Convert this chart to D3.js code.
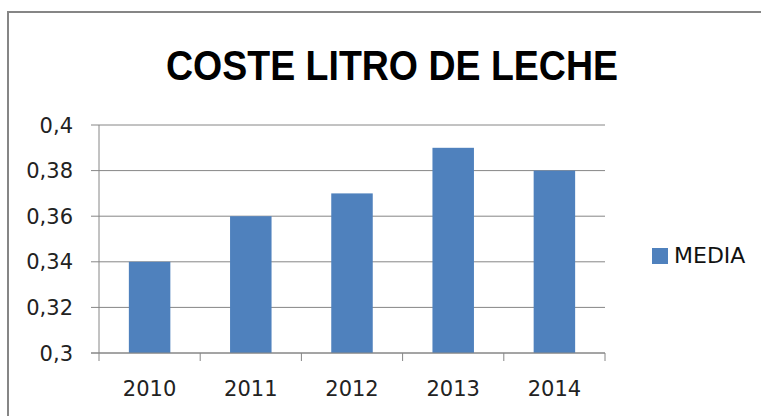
<!DOCTYPE html>
<html>
<head>
<meta charset="utf-8">
<script src="https://cdn.jsdelivr.net/npm/d3@7"></script>
<style>
  body { margin: 0; background: #fff; }
</style>
</head>
<body>
<div class="canvas"></div>
<script>
// data
const years = ['2010', '2011', '2012', '2013', '2014'];
const media = [0.34, 0.36, 0.37, 0.39, 0.38];
const yTicks = [0.3, 0.32, 0.34, 0.36, 0.38, 0.4];
const title = 'COSTE LITRO DE LECHE';
const seriesName = 'MEDIA';

const W = 761, H = 416;
const BAR = '#4F81BD', GRID = '#868686';
const FONT = 'DejaVu Sans, sans-serif';

var svg = d3.select('.canvas').append('svg').attr('width', W).attr('height', H);

// chart frame
svg.append('rect')
    .attr('x', 8).attr('y', 12)
    .attr('width', 800).attr('height', 500)
    .attr('fill', '#fff')
    .attr('stroke', GRID)
    .attr('stroke-width', 2);

// title
svg.append('text')
    .text(title)
    .attr('x', 166).attr('y', 80)
    .attr('textLength', 452)
    .attr('lengthAdjust', 'spacingAndGlyphs')
    .attr('font-family', "'Liberation Sans Narrow', 'Liberation Sans', Arial, sans-serif")
    .attr('font-weight', 'bold')
    .attr('font-size', 42)
    .attr('fill', '#000');

let x = d3.scaleBand().domain(years).range([99, 605]).padding(0);
let y = d3.scaleLinear().domain([0.3, 0.4]).range([353, 125]);

const loc = d3.formatLocale({ decimal: ',', thousands: '.', grouping: [3], currency: ['', '€'] });
const fmt = loc.format('.2~f');

// gridlines
svg.selectAll('.grid').data(yTicks).enter().append('line')
    .attr('x1', 91).attr('x2', 605)
    .attr('y1', d => y(d)).attr('y2', d => y(d))
    .attr('stroke', GRID).attr('stroke-width', 1);

// y labels
svg.selectAll('.ylab').data(yTicks).enter().append('text')
    .text(d => fmt(d))
    .attr('x', 73)
    .attr('y', d => y(d) + 7.5)
    .attr('text-anchor', 'end')
    .attr('font-family', FONT)
    .attr('font-size', 21)
    .attr('fill', '#222');

// bars
const bw = x.bandwidth() * 0.41;
svg.selectAll('.bar').data(media).enter().append('rect')
    .attr('x', (d, i) => x(years[i]) + (x.bandwidth() - bw) / 2)
    .attr('y', d => y(d))
    .attr('width', bw)
    .attr('height', d => y(0.3) - y(d))
    .attr('fill', BAR);

// axes lines
svg.append('line')
    .attr('x1', 99).attr('x2', 99).attr('y1', y(0.4)).attr('y2', y(0.3))
    .attr('stroke', GRID).attr('stroke-width', 1);
svg.append('line')
    .attr('x1', 91).attr('x2', 605).attr('y1', y(0.3)).attr('y2', y(0.3))
    .attr('stroke', GRID).attr('stroke-width', 1);

// x ticks at category boundaries
const bounds = years.map(d => x(d)).concat([x.range()[1]]);
svg.selectAll('.xtick').data(bounds).enter().append('line')
    .attr('x1', d => d).attr('x2', d => d)
    .attr('y1', y(0.3)).attr('y2', y(0.3) + 8)
    .attr('stroke', GRID).attr('stroke-width', 1);

// x labels
svg.selectAll('.xlab').data(years).enter().append('text')
    .text(d => d)
    .attr('x', d => x(d) + x.bandwidth() / 2)
    .attr('y', 396)
    .attr('text-anchor', 'middle')
    .attr('font-family', FONT)
    .attr('font-size', 21)
    .attr('fill', '#222');

// legend
svg.append('rect')
    .attr('x', 652).attr('y', 248)
    .attr('width', 16).attr('height', 16)
    .attr('fill', BAR);
svg.append('text')
    .text(seriesName)
    .attr('x', 674).attr('y', 263)
    .attr('font-family', FONT)
    .attr('font-size', 22)
    .attr('fill', '#111');
</script>
</body>
</html>
